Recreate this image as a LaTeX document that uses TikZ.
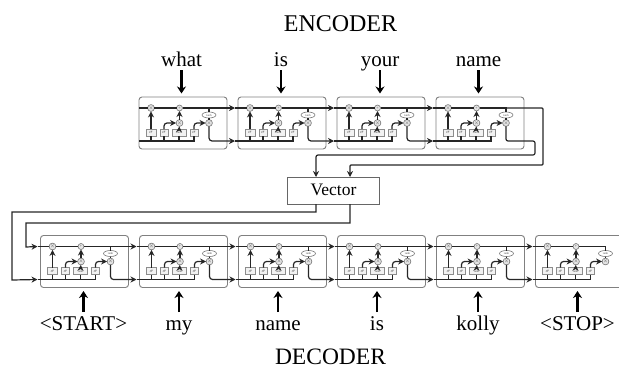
\documentclass[tikz,border=0pt]{standalone}
\usepackage{fontspec}
\setmainfont{Liberation Serif}
\usetikzlibrary{shapes.geometric, arrows.meta, positioning}
\tikzset{
  cellbox/.style={rectangle, rounded corners=3pt, minimum width=88pt, minimum height=52pt, inner sep=0pt, outer sep=0pt, draw=black!50, line width=0.9pt},
  gatebox/.style={rectangle, minimum height=7pt, inner sep=0pt, outer sep=0pt, draw=black!45, fill=black!5, line width=0.6pt, font=\fontsize{3}{3}\selectfont, text=black!70},
  opdot/.style={circle, minimum size=6pt, inner sep=0pt, outer sep=0pt, draw=black!55, fill=black!10, line width=0.6pt, font=\fontsize{4}{4}\selectfont, text=black!70},
  opoval/.style={ellipse, minimum width=14pt, minimum height=6pt, inner sep=0pt, outer sep=0pt, draw=black!55, fill=white, line width=0.6pt, font=\fontsize{3}{3}\selectfont, text=black!70},
  vectorbox/.style={rectangle, minimum width=92pt, minimum height=27pt, inner sep=0pt, outer sep=0pt, draw=black!60, line width=0.9pt},
  word/.style={anchor=base, inner sep=0pt, font=\fontsize{21}{21}\selectfont},
  title/.style={anchor=base, inner sep=0pt, font=\fontsize{24}{24}\selectfont},
  wire/.style={draw=black!85, line width=1.2pt},
  arrow/.style={wire, -{Stealth[length=6pt,width=6pt]}},
  wordarrow/.style={draw=black, line width=2.6pt, -{Stealth[length=7pt,width=9pt]}, shorten >=3.5pt}
}

% one repeating unit, everything measured from the corner of its box
\newcommand{\lstmcell}[1]{
  \begin{scope}[shift={(#1.north west)}]
    \coordinate (#1-tbox) at (0,11);
    \coordinate (#1-bbox) at (0,44);
    \coordinate (#1-tin) at (-3,11);
    \coordinate (#1-bin) at (-3,44);
    \coordinate (#1-tout) at (70,11);
    \coordinate (#1-bout) at (55,44);
    \node (#1-g1) [gatebox, minimum width=10pt] at (12,35.5) {$\sigma$};
    \node (#1-g2) [gatebox, minimum width=8pt] at (25,35.5) {$\sigma$};
    \node (#1-g3) [gatebox, minimum width=14pt] at (40,35.5) {tanh};
    \node (#1-g4) [gatebox, minimum width=8pt] at (55,35.5) {$\sigma$};
    \node (#1-m1) [opdot] at (12,11) {$\times$};
    \node (#1-m2) [opdot] at (40.5,11) {+};
    \node (#1-m3) [opdot] at (40.5,26) {$\times$};
    \node (#1-m4) [opdot] at (70,26) {$\times$};
    \node (#1-oval) [opoval] at (70,18) {tanh};
    \draw [wire] (#1-tbox) -- (#1-m1) -- (#1-m2) -- (#1-tout) -- (#1-oval);
    \draw [wire] (#1-oval) -- (#1-m4);
    \draw [wire] (#1-bbox) -- (#1-bout) -- (#1-g4);
    \draw [wire] (#1-g1 |- #1-bbox) -- (#1-g1);
    \draw [wire] (#1-g2 |- #1-bbox) -- (#1-g2);
    \draw [wire] (#1-g3 |- #1-bbox) -- (#1-g3);
    \draw [arrow] (#1-g1) -- (#1-m1);
    \draw [arrow] (#1-g3) -- (#1-m3);
    \draw [arrow] (#1-m3) -- (#1-m2);
    \draw [arrow, rounded corners=3pt] (#1-g2) |- (#1-m3);
    \draw [arrow, rounded corners=3pt] (#1-g4) |- (#1-m4);
  \end{scope}
}

\begin{document}
\begin{tikzpicture}[x=1pt, y=-1pt]
  \useasboundingbox (0,0) rectangle (619,367);

  \node (encoder) [title] at (340.5,31) {ENCODER};
  \node (decoder) [title, font=\fontsize{23.5}{23.5}\selectfont] at (330.5,364) {DECODER};

  \node (enc1) [cellbox] at (183,123) {};
  \node (enc2) [cellbox, right=11pt of enc1] {};
  \node (enc3) [cellbox, right=11pt of enc2] {};
  \node (enc4) [cellbox, right=11pt of enc3] {};

  \node (dec1) [cellbox] at (84.5,261.5) {};
  \node (dec2) [cellbox, right=11pt of dec1] {};
  \node (dec3) [cellbox, right=11pt of dec2] {};
  \node (dec4) [cellbox, right=11pt of dec3] {};
  \node (dec5) [cellbox, right=11pt of dec4] {};
  \node (dec6) [cellbox, right=11pt of dec5] {};

  \foreach \cell in {enc1,enc2,enc3,enc4,dec1,dec2,dec3,dec4,dec5,dec6}
    \lstmcell{\cell};

  % links from one unit to the next
  \foreach \cell/\next in {enc1/enc2,enc2/enc3,enc3/enc4,dec1/dec2,dec2/dec3,dec3/dec4,dec4/dec5,dec5/dec6}{
    \draw [arrow] (\cell-tout) -- (\next-tin);
    \draw [arrow, rounded corners=3pt] (\cell-m4) |- (\next-bin);
    \draw [wire] (\next-tin) -- (\next-tbox);
    \draw [wire] (\next-bin) -- (\next-bbox);
  }
  \draw [wire] (dec1-tin) -- (dec1-tbox);
  \draw [wire] (dec1-bin) -- (dec1-bbox);

  \node (what) [word] at (181.5,66.5) {what};
  \node (is1) [word] at (281,66.5) {is};
  \node (your) [word] at (380,66.5) {your};
  \node (name1) [word] at (478.5,66.5) {name};
  \foreach \w/\cell in {what/enc1,is1/enc2,your/enc3,name1/enc4}
    \draw [wordarrow] (\w |- 0,70) -- (\w |- \cell.north);

  \node (start) [word] at (83.5,330) {<START>};
  \node (my) [word] at (179,330) {my};
  \node (name2) [word] at (278,330) {name};
  \node (is2) [word] at (377,330) {is};
  \node (kolly) [word] at (478,330) {kolly};
  \node (stop) [word] at (577.5,330) {<STOP>};
  \foreach \w/\cell in {start/dec1,my/dec2,name2/dec3,is2/dec4,kolly/dec5,stop/dec6}
    \draw [wordarrow] (\w |- 0,312) -- (\w |- \cell.south);

  \node (vector) [vectorbox] at (333,190.5) {};
  \node (vectortext) [anchor=base, inner sep=0pt, font=\fontsize{17.5}{17.5}\selectfont] at (333.5,195.5) {Vector};
  \coordinate (vin1) at (316,155);
  \coordinate (vin2) at (350,165);

  \draw [arrow, rounded corners=1pt] (enc4-tout) -- (543,108) -- (543,165) -- (vin2) -- (vector.north -| vin2);
  \draw [arrow, rounded corners=2pt] (enc4-m4) |- (535,141) -- (535,155) -- (vin1) -- (vector.north -| vin1);

  \draw [arrow] (vector.south -| vin1) -- (316,212) -- (12,212) -- (12,280) -- (dec1-bin);
  \draw [arrow] (vector.south -| vin2) -- (350,223) -- (26,223) -- (26,247) -- (dec1-tin);

\end{tikzpicture}
\end{document}
